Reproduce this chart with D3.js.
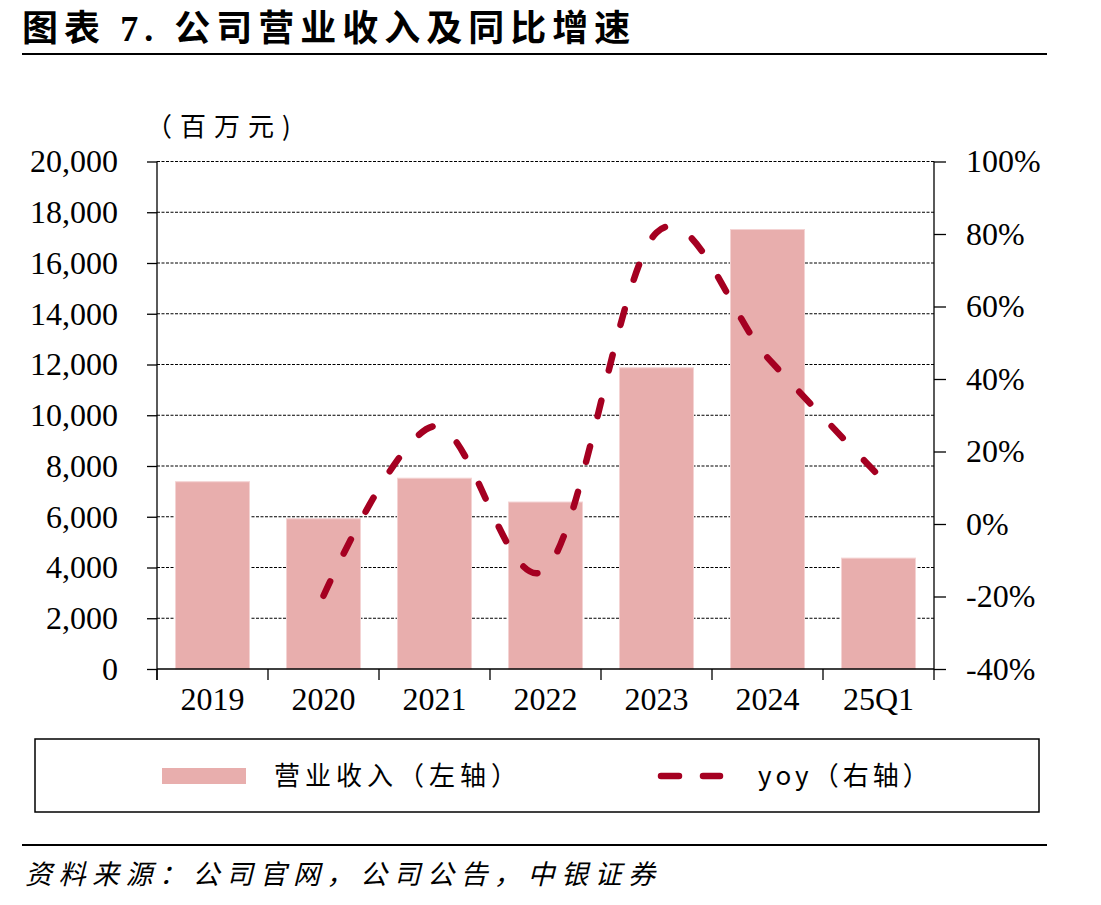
<!DOCTYPE html>
<head>
<meta charset="utf-8">
<style>
body, html {
  margin: 0;
  background: #fff;
}
.cjk {
  font-family: "Noto Sans CJK SC", sans-serif;
}
.num {
  font-family: "Liberation Serif", "Times New Roman", serif;
  font-size: 32px;
  fill: #000;
}
.grid {
  stroke: #000;
  stroke-width: 1;
  stroke-dasharray: 3, 1.5;
}
</style>
<script src="https://d3js.org/d3.v7.min.js"></script>
</head>
<body>
<script>

// chart values
var categories = ['2019', '2020', '2021', '2022', '2023', '2024', '25Q1'];
var revenue = [7380, 5920, 7520, 6580, 11870, 17320, 4370];   // 百万元
var yoy = [null, -19.8, 27.0, -12.5, 80.4, 45.9, 13.4];         // %
var leftTicks = [0, 2000, 4000, 6000, 8000, 10000, 12000, 14000, 16000, 18000, 20000];
var rightTicks = [-40, -20, 0, 20, 40, 60, 80, 100];

var width = 1101,
    height = 905,
    plotLeft = 157, plotRight = 934, plotTop = 161.5, plotBottom = 669;

var barColor = '#e8aead',
    lineColor = '#a50021';

var svg = d3.select('body').append('svg')
    .attr('width', width)
    .attr('height', height);

var x = d3.scaleBand()
    .domain(categories)
    .range([plotLeft, plotRight])
    .paddingInner(1/3)
    .paddingOuter(1/6);

var y = d3.scaleLinear().domain([0, 20000]).range([plotBottom, plotTop]);
var y2 = d3.scaleLinear().domain([-40, 100]).range([plotBottom, plotTop]);

//--------------------------------------
// title + rules
var title = svg.append('text')
    .attr('class', 'cjk')
    .attr('x', 22).attr('y', 41)
    .style('font-size', '36px')
    .style('font-weight', 'bold')
    .style('letter-spacing', '6px');
title.append('tspan').text('图表 ');
title.append('tspan').style('font-family', '"Liberation Serif", serif').text('7. ');
title.append('tspan').text('公司营业收入及同比增速');

svg.append('rect').attr('x', 22).attr('y', 53).attr('width', 1025).attr('height', 2).attr('fill', '#000');
svg.append('rect').attr('x', 22).attr('y', 844).attr('width', 1025).attr('height', 2).attr('fill', '#000');

svg.append('text')
    .attr('class', 'cjk')
    .attr('x', 25).attr('y', 884)
    .style('font-size', '27px')
    .style('font-style', 'italic')
    .style('letter-spacing', '6.5px')
    .text('资料来源：公司官网，公司公告，中银证券');

svg.append('text')
    .attr('class', 'cjk')
    .attr('x', 146).attr('y', 136)
    .style('font-size', '26px')
    .style('letter-spacing', '8px')
    .text('（百万元)');

//--------------------------------------
// grid
svg.append('g').selectAll('line')
    .data(leftTicks.filter(function(d) { return d > 0; }))
    .enter().append('line')
    .attr('class', 'grid')
    .attr('x1', plotLeft).attr('x2', plotRight)
    .attr('y1', function(d) { return y(d); })
    .attr('y2', function(d) { return y(d); });

// bars
svg.append('g').selectAll('rect')
    .data(revenue)
    .enter().append('rect')
    .attr('x', function(d, i) { return x(categories[i]); })
    .attr('y', function(d) { return y(d); })
    .attr('width', x.bandwidth())
    .attr('height', function(d) { return plotBottom - y(d); })
    .attr('fill', barColor)
    .attr('stroke', '#f4d3d3')
    .attr('stroke-width', 1);

//--------------------------------------
// axes
var axisL = svg.append('g')
    .attr('transform', 'translate(' + plotLeft + ',0)')
    .call(d3.axisLeft(y).tickValues(leftTicks).tickSize(10).tickPadding(29).tickFormat(d3.format(',')));

var axisR = svg.append('g')
    .attr('transform', 'translate(' + plotRight + ',0)')
    .call(d3.axisRight(y2).tickValues(rightTicks).tickSize(12).tickPadding(20).tickFormat(function(d) { return d + '%'; }));

[axisL, axisR].forEach(function(a) {
  a.attr('font-size', null).attr('font-family', null);
  a.select('.domain').remove();
  a.selectAll('line').attr('stroke', '#000').attr('stroke-width', 1.3);
  a.selectAll('text').attr('class', 'num').attr('fill', '#000');
});

// vertical axis lines
[plotLeft, plotRight].forEach(function(px) {
  svg.append('line').attr('x1', px).attr('x2', px).attr('y1', plotTop).attr('y2', plotBottom + 11)
      .attr('stroke', '#000').attr('stroke-width', 1.3);
});
svg.append('line').attr('x1', plotLeft).attr('x2', plotRight).attr('y1', plotBottom).attr('y2', plotBottom)
    .attr('stroke', '#000').attr('stroke-width', 1.3);

// x ticks at category boundaries
var half = (x.step() - x.bandwidth()) / 2;
var bounds = categories.map(function(c) { return x(c) - half; });
svg.append('g').selectAll('line')
    .data(bounds)
    .enter().append('line')
    .attr('x1', function(d) { return d; }).attr('x2', function(d) { return d; })
    .attr('y1', plotBottom).attr('y2', plotBottom + 11)
    .attr('stroke', '#000').attr('stroke-width', 1.3);

svg.append('g').selectAll('text')
    .data(categories)
    .enter().append('text')
    .attr('class', 'num')
    .attr('x', function(d) { return x(d) + x.bandwidth() / 2; })
    .attr('y', 710)
    .attr('text-anchor', 'middle')
    .text(function(d) { return d; });

//--------------------------------------
// yoy line
var pts = yoy.map(function(v, i) { return {c: categories[i], v: v}; })
    .filter(function(d) { return d.v !== null; });

var line = d3.line()
    .x(function(d) { return x(d.c) + x.bandwidth() / 2; })
    .y(function(d) { return y2(d.v); })
    .curve(d3.curveCardinal.tension(0));

svg.append('path')
    .datum(pts)
    .attr('d', line)
    .attr('fill', 'none')
    .attr('stroke', lineColor)
    .attr('stroke-width', 6.5)
    .attr('stroke-linecap', 'round')
    .attr('stroke-dasharray', '16,31');

//--------------------------------------
// legend
var legend = svg.append('g');
legend.append('rect')
    .attr('x', 35).attr('y', 739).attr('width', 1004).attr('height', 73)
    .attr('fill', 'none').attr('stroke', '#000').attr('stroke-width', 1.5);

legend.append('rect')
    .attr('x', 162).attr('y', 768).attr('width', 84).attr('height', 16)
    .attr('fill', barColor);
legend.append('text')
    .attr('class', 'cjk')
    .attr('x', 274).attr('y', 785)
    .style('font-size', '26px')
    .style('letter-spacing', '5px')
    .text('营业收入（左轴）');

legend.append('line')
    .attr('x1', 661).attr('x2', 720).attr('y1', 776).attr('y2', 776)
    .attr('stroke', lineColor)
    .attr('stroke-width', 6.5)
    .attr('stroke-linecap', 'round')
    .attr('stroke-dasharray', '18,24');
legend.append('text')
    .attr('class', 'cjk')
    .attr('x', 758).attr('y', 785)
    .style('font-size', '26px')
    .style('letter-spacing', '4px')
    .text('yoy（右轴）');

</script>
</body>
